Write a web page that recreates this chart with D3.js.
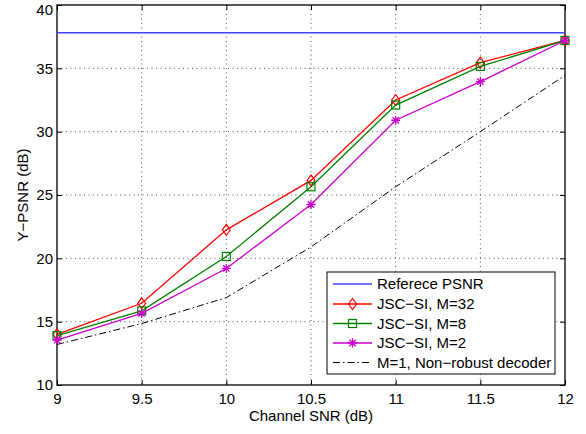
<!DOCTYPE html>
<html><head><meta charset="utf-8">
<script src="https://cdn.jsdelivr.net/npm/d3@7"></script>
<style>body{margin:0;background:#fff}svg{font-family:"Liberation Sans",Arial,sans-serif}</style>
</head><body><div id="c"></div>
<script>
const snr = [9, 9.5, 10, 10.5, 11, 11.5, 12];
const refPSNR = 37.8;
const m32 = [14.0, 16.45, 22.25, 26.15, 32.5, 35.45, 37.2];
const m8 = [13.9, 15.85, 20.15, 25.65, 32.1, 35.15, 37.2];
const m2 = [13.55, 15.65, 19.2, 24.25, 30.9, 33.95, 37.2];
const m1 = [13.2, 14.85, 16.9, 20.9, 25.65, 30.0, 34.45];
const xTicks = [9, 9.5, 10, 10.5, 11, 11.5, 12];
const yTicks = [10, 15, 20, 25, 30, 35, 40];
const legendLabels = ["Referece PSNR", "JSC\u2212SI, M=32", "JSC\u2212SI, M=8", "JSC\u2212SI, M=2", "M=1, Non\u2212robust decoder"];

const W = 586, H = 434;
const L = 57, R = 565, T = 5, B = 385;
const svg = d3.select("#c").append("svg").attr("width", W).attr("height", H);
const x = d3.scaleLinear().domain([9, 12]).range([L, R]);
const y = d3.scaleLinear().domain([10, 40]).range([B, T]);

// grid
const grid = svg.append("g").attr("stroke", "#555").attr("stroke-width", 1).attr("stroke-dasharray", "1,3.5");
xTicks.slice(1, -1).forEach(t => grid.append("line").attr("x1", x(t)).attr("x2", x(t)).attr("y1", T).attr("y2", B));
yTicks.slice(1, -1).forEach(t => grid.append("line").attr("y1", y(t)).attr("y2", y(t)).attr("x1", L).attr("x2", R));

// axes
const xa = svg.append("g").attr("transform", `translate(0,${B})`)
  .call(d3.axisBottom(x).tickValues(xTicks).tickSize(-5).tickPadding(8).tickFormat(d3.format("")));
const xt = svg.append("g").attr("transform", `translate(0,${T})`)
  .call(d3.axisTop(x).tickValues(xTicks).tickSize(-5).tickFormat(""));
const ya = svg.append("g").attr("transform", `translate(${L},0)`)
  .call(d3.axisLeft(y).tickValues(yTicks).tickSize(-5).tickPadding(4));
const yr = svg.append("g").attr("transform", `translate(${R},0)`)
  .call(d3.axisRight(y).tickValues(yTicks).tickSize(-5).tickFormat(""));
[xa, xt, ya, yr].forEach(g => {
  g.select(".domain").remove();
  g.selectAll("line").attr("stroke", "#000");
  g.selectAll("text").attr("font-size", 15).attr("fill", "#000").attr("font-family", "Liberation Sans, Arial, sans-serif");
});
ya.selectAll("text").filter(d => d === 40).attr("dy", "0.6em");
svg.append("rect").attr("x", L).attr("y", T).attr("width", R - L).attr("height", B - T)
  .attr("fill", "none").attr("stroke", "#000").attr("stroke-width", 1.3);

svg.append("text").attr("x", (L + R) / 2).attr("y", 421).attr("text-anchor", "middle")
  .attr("font-size", 15).text("Channel SNR (dB)");
svg.append("text").attr("transform", `translate(28,${(T + B) / 2}) rotate(-90)`).attr("text-anchor", "middle")
  .attr("font-size", 15).text("Y\u2212PSNR (dB)");

// series
const line = d3.line().x((d, i) => x(snr[i])).y(d => y(d));
svg.append("line").attr("x1", L).attr("x2", R).attr("y1", y(refPSNR)).attr("y2", y(refPSNR))
  .attr("stroke", "#4040ff").attr("stroke-width", 1.5);
svg.append("path").datum(m1).attr("d", line).attr("fill", "none").attr("stroke", "#000")
  .attr("stroke-width", 1).attr("stroke-dasharray", "7,3,1.5,3");

const series = [
  {data: m32, color: "#ff0000", marker: "diamond"},
  {data: m8, color: "#008000", marker: "square"},
  {data: m2, color: "#cc00cc", marker: "star"}
];
function marker(g, type, cx, cy, color) {
  if (type === "diamond") {
    g.append("path").attr("d", `M${cx},${cy-5.5}L${cx+4},${cy}L${cx},${cy+5.5}L${cx-4},${cy}Z`)
      .attr("fill", "none").attr("stroke", color).attr("stroke-width", 1.2);
  } else if (type === "square") {
    g.append("rect").attr("x", cx - 4).attr("y", cy - 4).attr("width", 8).attr("height", 8)
      .attr("fill", "none").attr("stroke", color).attr("stroke-width", 1.2);
  } else {
    const r = 4.5;
    let d = "";
    for (let k = 0; k < 4; k++) {
      const a = k * Math.PI / 4;
      d += `M${cx - r * Math.cos(a)},${cy - r * Math.sin(a)}L${cx + r * Math.cos(a)},${cy + r * Math.sin(a)}`;
    }
    g.append("path").attr("d", d).attr("stroke", color).attr("stroke-width", 1.3);
  }
}
series.forEach(s => {
  svg.append("path").datum(s.data).attr("d", line).attr("fill", "none").attr("stroke", s.color).attr("stroke-width", 1.3);
  const g = svg.append("g");
  s.data.forEach((v, i) => marker(g, s.marker, x(snr[i]), y(v), s.color));
});

// legend
const lg = svg.append("g");
lg.append("rect").attr("x", 327).attr("y", 272).attr("width", 228).attr("height", 102)
  .attr("fill", "#fff").attr("stroke", "#000").attr("stroke-width", 1);
const rowY = [284, 304, 323.5, 343, 362.5];
const styles = [
  {color: "#4040ff", dash: null, marker: null, w: 1.5},
  {color: "#ff0000", dash: null, marker: "diamond", w: 1.3},
  {color: "#008000", dash: null, marker: "square", w: 1.3},
  {color: "#cc00cc", dash: null, marker: "star", w: 1.3},
  {color: "#000", dash: "7,3,1.5,3", marker: null, w: 1}
];
legendLabels.forEach((lab, i) => {
  const st = styles[i];
  const ln = lg.append("line").attr("x1", 333).attr("x2", 372).attr("y1", rowY[i]).attr("y2", rowY[i])
    .attr("stroke", st.color).attr("stroke-width", st.w);
  if (st.dash) ln.attr("stroke-dasharray", st.dash);
  if (st.marker) marker(lg, st.marker, 352.5, rowY[i], st.color);
  lg.append("text").attr("x", 377).attr("y", rowY[i] + 5.3).attr("font-size", 15).text(lab);
});
</script></body></html>
